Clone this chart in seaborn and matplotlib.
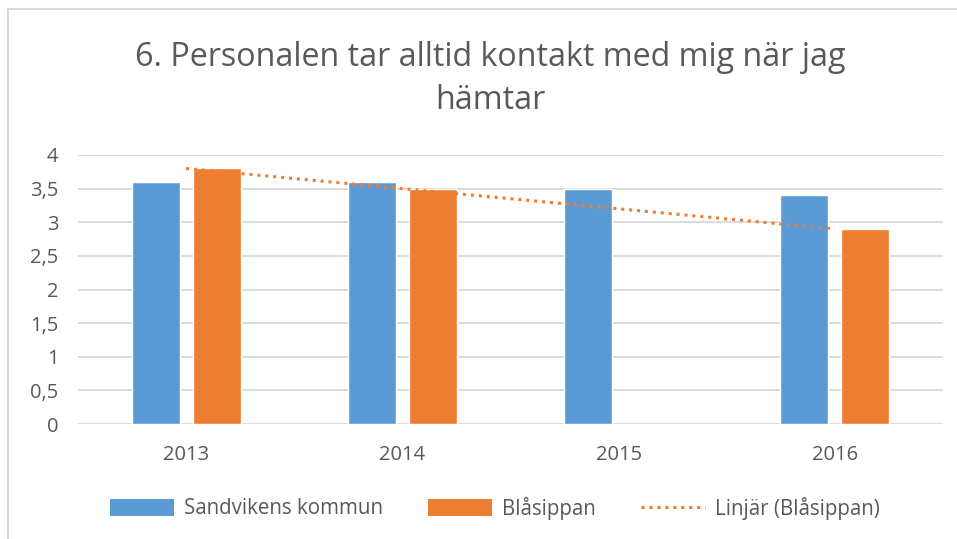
import numpy as np
import pandas as pd
import matplotlib
matplotlib.use("Agg")
import matplotlib.pyplot as plt
from matplotlib.lines import Line2D
from matplotlib.patches import Patch
import seaborn as sns

years = ["2013", "2014", "2015", "2016"]
sandviken = [3.6, 3.6, 3.5, 3.4]
blasippan = [3.8, 3.5, np.nan, 2.9]
series_names = ["Sandvikens kommun", "Blåsippan"]
y_ticks = [0, 0.5, 1, 1.5, 2, 2.5, 3, 3.5, 4]
title = "6. Personalen tar alltid kontakt med mig när jag\nhämtar"

blue = "#5B9BD5"
orange = "#ED7D31"
grey_text = "#595959"

sns.set_theme(style="white")
plt.rcParams["font.family"] = ["Open Sans", "DejaVu Sans"]

df = pd.DataFrame({
    "year": years * 2,
    "serie": [series_names[0]] * 4 + [series_names[1]] * 4,
    "value": sandviken + blasippan,
})

fig = plt.figure(figsize=(9.57, 5.39), dpi=100)
ax = fig.add_axes([78 / 957, 1 - 424 / 539, 865 / 957, 269 / 539])

sns.barplot(data=df, x="year", y="value", hue="serie", order=years,
            hue_order=series_names, palette=[blue, orange],
            width=0.565, gap=0.214, ax=ax, legend=False, errorbar=None,
            saturation=1)

# linear trend on Blåsippan (Excel style, missing value skipped)
xb = np.arange(len(years))
yb = np.array(blasippan)
ok = ~np.isnan(yb)
k, m = np.polyfit(xb[ok] + 1, yb[ok], 1)
xt = np.array([0, len(years) - 1])
ax.plot(xt, k * (xt + 1) + m, color=orange, linestyle=(0, (1, 1.6)),
        linewidth=2.2, zorder=5)

ax.set_ylim(0, 4)
ax.set_xlim(-0.5, 3.5)
ax.set_yticks(y_ticks)
ax.set_yticklabels([f"{t:g}".replace(".", ",") for t in y_ticks])
ax.yaxis.grid(True, color="#D9D9D9", linewidth=1.3)
ax.set_axisbelow(True)
for s in ax.spines.values():
    s.set_visible(False)
ax.tick_params(axis="both", length=0, labelsize=14.5, colors=grey_text)
ax.tick_params(axis="y", pad=14)
ax.tick_params(axis="x", pad=15)
ax.set_xlabel("")
ax.set_ylabel("")

fig.text(490 / 957, 1 - 79 / 539, title, ha="center", va="center",
         fontsize=23.2, color=grey_text, linespacing=1.4)

handles = [Patch(facecolor=blue, edgecolor="none"),
           Patch(facecolor=orange, edgecolor="none"),
           Line2D([0], [0], color=orange, linestyle=(0, (1, 1.6)), linewidth=2.2)]
labels = series_names + ["Linjär (Blåsippan)"]
fig.legend(handles, labels, loc="center", bbox_to_anchor=(495 / 957, 1 - 508 / 539),
           ncol=3, frameon=False, fontsize=14.8, labelcolor=grey_text,
           handlelength=3.1, handleheight=0.85, columnspacing=2.2, handletextpad=0.5)

# chart frame (cropped at the right and bottom)
fig.add_artist(Line2D([8 / 957, 8 / 957], [0, 1 - 9 / 539], transform=fig.transFigure,
                      color="#D9D9D9", linewidth=1.5))
fig.add_artist(Line2D([8 / 957, 1], [1 - 9 / 539, 1 - 9 / 539], transform=fig.transFigure,
                      color="#D9D9D9", linewidth=1.5))

fig.savefig("out.png", dpi=100)
